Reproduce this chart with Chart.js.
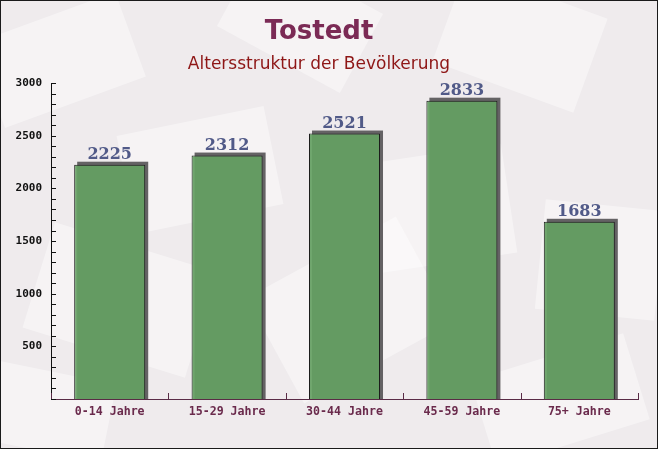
<!DOCTYPE html>
<html>
<head>
<meta charset="utf-8">
<script src="https://cdn.jsdelivr.net/npm/chart.js@4/dist/chart.umd.min.js"></script>
<style>
html,body{margin:0;padding:0;background:#efebec;}
#wrap{width:658px;height:449px;position:relative;}
</style>
</head>
<body>
<div id="wrap"><canvas id="c" width="658" height="449"></canvas></div>
<script>
const categories = ["0-14 Jahre", "15-29 Jahre", "30-44 Jahre", "45-59 Jahre", "75+ Jahre"];
const population = [2225, 2312, 2521, 2833, 1683];
const yTickLabels = [500, 1000, 1500, 2000, 2500, 3000];
const titleText = "Tostedt";
const subtitleText = "Altersstruktur der Bevölkerung";

const bgPlugin = {
  id: 'bgDeco',
  beforeDraw(chart) {
    const ctx = chart.ctx, W = chart.width, H = chart.height;
    ctx.save();
    ctx.fillStyle = '#efebed';
    ctx.fillRect(0, 0, W, H);
    const shapes = [
      [60, 60, 150, 90, -0.35], [300, 20, 140, 90, 0.5], [520, 40, 150, 100, 0.35],
      [430, 210, 160, 110, -0.15], [120, 300, 170, 110, 0.3], [350, 310, 170, 120, -0.5],
      [600, 260, 120, 110, 0.1], [200, 170, 150, 100, -0.2], [560, 400, 160, 90, -0.3],
      [40, 410, 140, 80, 0.2]
    ];
    ctx.fillStyle = 'rgba(255,255,255,0.42)';
    for (const s of shapes) {
      ctx.save();
      ctx.translate(s[0], s[1]);
      ctx.rotate(s[4]);
      ctx.fillRect(-s[2] / 2, -s[3] / 2, s[2], s[3]);
      ctx.restore();
    }
    ctx.restore();
  },
  beforeDatasetsDraw(chart) {
    const ctx = chart.ctx;
    const meta = chart.getDatasetMeta(0);
    ctx.save();
    ctx.fillStyle = '#646264';
    meta.data.forEach(el => {
      const w = el.width;
      const left = el.x - w / 2 + 3;
      ctx.fillRect(left, el.y - 3, w, el.base - el.y + 3);
    });
    ctx.restore();
  },
  afterDatasetsDraw(chart) {
    const ctx = chart.ctx;
    const meta = chart.getDatasetMeta(0);
    const ds = chart.data.datasets[0].data;
    ctx.save();
    ctx.font = 'bold 16px "DejaVu Serif"';
    ctx.fillStyle = '#515a88';
    ctx.textAlign = 'center';
    ctx.textBaseline = 'alphabetic';
    meta.data.forEach((el, i) => {
      ctx.fillText(String(ds[i]), el.x, el.y - 6);
    });
    // inward tick marks
    const ys = chart.scales.y, xs = chart.scales.x;
    const ca = chart.chartArea;
    ctx.strokeStyle = '#111';
    ctx.lineWidth = 1;
    ctx.beginPath();
    ys.ticks.forEach(t => {
      const py = Math.round(ys.getPixelForValue(t.value)) + 0.5;
      ctx.moveTo(ca.left, py);
      ctx.lineTo(ca.left + 5, py);
    });
    ctx.stroke();
    ctx.strokeStyle = '#5a2b46';
    ctx.beginPath();
    const n = chart.data.labels.length;
    const step = (xs.getPixelForValue(1) - xs.getPixelForValue(0));
    for (let i = 0; i <= n; i++) {
      const px = Math.round(xs.getPixelForValue(0) - step / 2 + i * step) + 0.5;
      ctx.moveTo(px, ca.bottom);
      ctx.lineTo(px, ca.bottom - 6);
    }
    ctx.stroke();
    ctx.restore();
  },
  afterDraw(chart) {
    const ctx = chart.ctx;
    ctx.save();
    ctx.strokeStyle = '#1a1a1a';
    ctx.lineWidth = 1;
    ctx.strokeRect(0.5, 0.5, chart.width - 1, chart.height - 1);
    ctx.restore();
  }
};

new Chart(document.getElementById('c'), {
  type: 'bar',
  data: {
    labels: categories,
    datasets: [{
      data: population,
      backgroundColor: 'rgba(100,160,98,0.92)',
      borderColor: '#1c1c1c',
      borderWidth: 1,
      borderSkipped: 'bottom',
      barPercentage: 0.605,
      categoryPercentage: 1
    }]
  },
  options: {
    responsive: false,
    animation: false,
    devicePixelRatio: 1,
    layout: { padding: { left: 0, right: 20, top: 0, bottom: 0 } },
    plugins: {
      legend: { display: false },
      tooltip: { enabled: false },
      title: {
        display: true,
        text: titleText,
        color: '#7b2a55',
        font: { family: '"DejaVu Sans"', size: 26, weight: 'bold', lineHeight: 1.2 },
        padding: { top: 17, bottom: 3 }
      },
      subtitle: {
        display: true,
        text: subtitleText,
        color: '#8e1616',
        font: { family: '"DejaVu Sans"', size: 17, weight: 'normal', lineHeight: 1.2 },
        padding: { top: 3, bottom: 8.5 }
      }
    },
    scales: {
      x: {
        grid: { display: false, drawTicks: false },
        border: { display: true, color: '#5a2b46', width: 1 },
        ticks: {
          color: '#6a2a4c',
          font: { family: '"DejaVu Sans Mono"', size: 11.6, weight: 'bold' },
          padding: 6,
          maxRotation: 0,
          autoSkip: false
        },
        afterFit(scale) { scale.height = 50; }
      },
      y: {
        min: 0,
        max: 3000,
        grid: { display: false, drawTicks: false },
        border: { display: true, color: '#111', width: 1 },
        ticks: {
          stepSize: 100,
          autoSkip: false,
          color: '#111',
          font: { family: '"DejaVu Sans Mono"', size: 11, weight: 'bold' },
          padding: 9,
          callback: (v) => yTickLabels.includes(v) ? String(v) : ''
        },
        afterFit(scale) { scale.width = 51; }
      }
    }
  },
  plugins: [bgPlugin]
});
</script>
</body>
</html>
